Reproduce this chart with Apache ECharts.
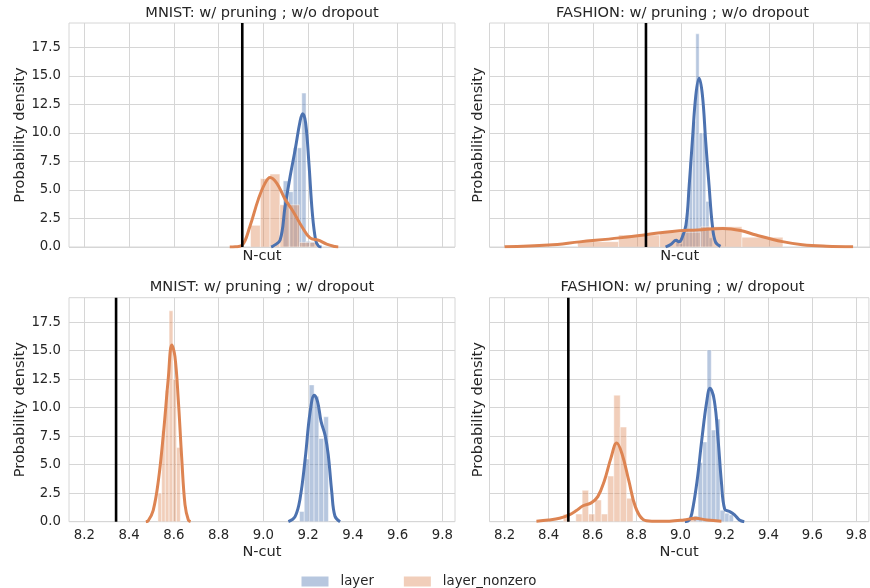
<!DOCTYPE html>
<html><head><meta charset="utf-8">
<script src="https://cdn.jsdelivr.net/npm/echarts@6/dist/echarts.min.js"></script>
<style>html,body{margin:0;padding:0;background:#fff}#c{width:870px;height:588px}</style>
</head><body><div id="c"></div>
<script>
// ---------- data ----------
const xTicks = [8.2, 8.4, 8.6, 8.8, 9.0, 9.2, 9.4, 9.6, 9.8];
const yTicks = [0, 2.5, 5, 7.5, 10, 12.5, 15, 17.5];
const panelTitles = ['MNIST: w/ pruning ; w/o dropout', 'FASHION: w/ pruning ; w/o dropout',
                     'MNIST: w/ pruning ; w/ dropout', 'FASHION: w/ pruning ; w/ dropout'];
const seriesNames = ['layer', 'layer_nonzero'];
const xLabel = 'N-cut';
const yLabel = 'Probability density';
const cutLines = [8.906, 8.841, 8.342, 8.490];

// panel 0: MNIST w/o dropout
const layerEdges0 = [9.089, 9.112, 9.134, 9.153, 9.172, 9.191, 9.210, 9.229];
const layerHeights0 = [5.8, 4.85, 8.7, 8.7, 13.5, 0.5, 0.45];
const nonzeroEdges0 = [8.943, 8.987, 9.030, 9.074, 9.118, 9.162, 9.206, 9.249];
const nonzeroHeights0 = [1.9, 6.0, 6.4, 3.7, 3.7, 0.4, 0.4];
const layerKdeX0 = [9.035, 9.045, 9.075, 9.097, 9.12, 9.142, 9.165, 9.176, 9.189, 9.204, 9.219, 9.234, 9.246, 9.26];
const layerKdeY0 = [0, 0.1, 0.6, 3.5, 6.2, 8.5, 11.1, 11.7, 10.9, 7.3, 3.0, 0.6, 0.1, 0];
const nonzeroKdeX0 = [8.85, 8.875, 8.905, 8.94, 8.978, 9.008, 9.03, 9.06, 9.097, 9.134, 9.172, 9.209, 9.246, 9.283, 9.32, 9.335];
const nonzeroKdeY0 = [0, 0.02, 0.15, 1.8, 4.2, 5.6, 6.1, 5.6, 4.2, 3.1, 1.8, 0.8, 0.6, 0.25, 0.04, 0];

// panel 1: FASHION w/o dropout
const layerEdges1 = [8.977, 8.992, 9.007, 9.022, 9.037, 9.052, 9.067, 9.082, 9.097, 9.112, 9.127, 9.142];
const layerHeights1 = [0.6, 0.3, 1.2, 3.0, 7.5, 11.0, 18.7, 10.0, 10.0, 4.0, 0.8];
const nonzeroEdges1 = [8.531, 8.717, 8.903, 9.089, 9.276, 9.462];
const nonzeroHeights1 = [0.47, 1.05, 1.3, 1.78, 0.85];
const layerKdeX1 = [8.93, 8.955, 8.978, 8.99, 9.0, 9.022, 9.037, 9.052, 9.067, 9.082, 9.097, 9.112, 9.127, 9.142, 9.156, 9.179];
const layerKdeY1 = [0, 0.25, 0.6, 0.45, 0.6, 1.9, 5.4, 9.5, 13.3, 14.8, 13.3, 9.2, 5.4, 1.9, 0.45, 0.05];
const nonzeroKdeX1 = [8.2, 8.4, 8.54, 8.72, 8.84, 8.96, 9.075, 9.19, 9.27, 9.34, 9.46, 9.55, 9.66, 9.78];
const nonzeroKdeY1 = [0.02, 0.17, 0.45, 0.8, 1.08, 1.37, 1.5, 1.63, 1.45, 1.05, 0.47, 0.2, 0.07, 0.02];

// panel 2: MNIST w/ dropout
const layerEdges2 = [9.162, 9.183, 9.205, 9.227, 9.248, 9.270, 9.291];
const layerHeights2 = [0.9, 5.5, 12.0, 11.0, 7.3, 9.2];
const nonzeroEdges2 = [8.529, 8.546, 8.562, 8.579, 8.596, 8.612, 8.629];
const nonzeroHeights2 = [2.5, 8.0, 11.5, 18.5, 12.5, 6.5];
const layerKdeX2 = [9.112, 9.142, 9.164, 9.187, 9.209, 9.228, 9.243, 9.258, 9.276, 9.29, 9.306, 9.32, 9.343];
const layerKdeY2 = [0, 0.45, 2.0, 5.5, 9.6, 11.1, 10.5, 8.8, 7.6, 5.9, 2.6, 0.5, 0];
const nonzeroKdeX2 = [8.475, 8.486, 8.508, 8.531, 8.553, 8.575, 8.591, 8.605, 8.62, 8.635, 8.65, 8.665, 8.675];
const nonzeroKdeY2 = [0, 0.1, 1.0, 3.6, 7.6, 12.5, 15.5, 14.5, 10.7, 5.7, 1.5, 0.15, 0];

// panel 3: FASHION w/ dropout
const layerEdges3 = [9.060, 9.080, 9.101, 9.121, 9.140, 9.161, 9.180, 9.201, 9.221, 9.241];
const layerHeights3 = [0.5, 5.2, 7.0, 15.06, 8.04, 9.0, 1.0, 0.75, 0.6];
const nonzeroEdges3 = [8.467, 8.496, 8.524, 8.553, 8.582, 8.611, 8.640, 8.669, 8.697, 8.726, 8.755, 8.784,
                       8.813, 8.842, 8.870, 8.899, 8.928, 8.957, 8.986, 9.014, 9.043, 9.072];
const nonzeroHeights3 = [0.65, 0, 0.67, 2.75, 0.67, 1.9, 0.67, 4.0, 11.1, 8.3, 2.05,
                         0, 0, 0, 0, 0, 0, 0, 0, 0, 0.35];
const layerKdeX3 = [9.02, 9.04, 9.052, 9.075, 9.097, 9.119, 9.134, 9.154, 9.171, 9.186, 9.201, 9.223, 9.246, 9.268, 9.29];
const layerKdeY3 = [0, 0.15, 0.75, 3.5, 7.2, 10.5, 11.7, 10.6, 7.2, 3.5, 1.1, 0.9, 0.6, 0.15, 0];
const nonzeroKdeX3 = [8.345, 8.40, 8.45, 8.494, 8.525, 8.557, 8.594, 8.624, 8.654, 8.684, 8.71, 8.735, 8.765, 8.795, 8.83, 8.87, 8.95, 9.015, 9.067, 9.12, 9.186];
const nonzeroKdeY3 = [0.05, 0.15, 0.3, 0.6, 0.95, 1.4, 1.65, 2.2, 3.6, 5.6, 6.9, 5.9, 3.6, 1.3, 0.2, 0.05, 0.05, 0.15, 0.3, 0.15, 0.05];

// ---------- build ----------
const panels = [
  {le: layerEdges0, lh: layerHeights0, ne: nonzeroEdges0, nh: nonzeroHeights0, lkx: layerKdeX0, lky: layerKdeY0, nkx: nonzeroKdeX0, nky: nonzeroKdeY0},
  {le: layerEdges1, lh: layerHeights1, ne: nonzeroEdges1, nh: nonzeroHeights1, lkx: layerKdeX1, lky: layerKdeY1, nkx: nonzeroKdeX1, nky: nonzeroKdeY1},
  {le: layerEdges2, lh: layerHeights2, ne: nonzeroEdges2, nh: nonzeroHeights2, lkx: layerKdeX2, lky: layerKdeY2, nkx: nonzeroKdeX2, nky: nonzeroKdeY2},
  {le: layerEdges3, lh: layerHeights3, ne: nonzeroEdges3, nh: nonzeroHeights3, lkx: layerKdeX3, lky: layerKdeY3, nkx: nonzeroKdeX3, nky: nonzeroKdeY3}
];

const FONT = 'DejaVu Sans';
const TXT = '#262626';
const GRIDC = '#d6d6d6';
const BLUE = '#4C72B0', ORANGE = '#DD8452';
const BLUE_A = 'rgba(76,114,176,0.4)', ORANGE_A = 'rgba(221,132,82,0.4)';
const X_MIN = 8.1316, X_MAX = 9.8567, Y_MAX = 19.65;
const TITLE_FS = 14.6, LABEL_FS = 14.6, TICK_FS = 13.3;

const gridPos = [
  {left: 69, top: 23}, {left: 489.5, top: 23},
  {left: 69, top: 297.7}, {left: 489.5, top: 297.7}
];

function histData(edges, heights) {
  const out = [];
  for (let i = 0; i < heights.length; i++) out.push([edges[i], edges[i + 1], heights[i]]);
  return out;
}
function pairs(xs, ys) { return xs.map((x, i) => [x, ys[i]]); }
function histRender(fill) {
  return function (params, api) {
    if (api.value(2) <= 0) return null;
    const a = api.coord([api.value(0), api.value(2)]);
    const b = api.coord([api.value(1), 0]);
    return {type: 'rect', shape: {x: a[0], y: a[1], width: b[0] - a[0], height: b[1] - a[1]},
      style: {fill: fill, stroke: 'rgba(255,255,255,0.45)', lineWidth: 1}};
  };
}

const grids = [], xAxes = [], yAxes = [], series = [], graphics = [];
panels.forEach((p, i) => {
  const left = i % 2 === 0;
  const bottom = i >= 2;
  grids.push({left: gridPos[i].left, top: gridPos[i].top, width: 386, height: 224,
    show: true, borderColor: GRIDC, borderWidth: 1, backgroundColor: 'transparent', containLabel: false});
  xAxes.push({gridIndex: i, type: 'value', min: X_MIN, max: X_MAX,
    name: xLabel, nameLocation: 'middle', nameGap: bottom ? 23 : 2,
    nameTextStyle: {fontFamily: FONT, fontSize: LABEL_FS, color: TXT},
    axisLine: {show: false},
    axisTick: {show: false, customValues: xTicks},
    axisLabel: {show: bottom, customValues: xTicks, margin: 7, fontFamily: FONT, fontSize: TICK_FS, color: TXT,
      formatter: v => v.toFixed(1)},
    splitLine: {show: true, lineStyle: {color: GRIDC, width: 1}}
  });
  yAxes.push({gridIndex: i, type: 'value', min: 0, max: Y_MAX,
    name: yLabel, nameLocation: 'middle', nameGap: left ? 41.5 : 4,
    nameTextStyle: {fontFamily: FONT, fontSize: LABEL_FS, color: TXT},
    axisLine: {show: false},
    axisTick: {show: false, customValues: yTicks},
    axisLabel: {show: left, customValues: yTicks, margin: 8, fontFamily: FONT, fontSize: TICK_FS, color: TXT,
      formatter: v => v.toFixed(1)},
    splitLine: {show: true, lineStyle: {color: GRIDC, width: 1}}
  });
  series.push({type: 'custom', name: seriesNames[0], xAxisIndex: i, yAxisIndex: i,
    renderItem: histRender(BLUE_A), data: histData(p.le, p.lh), encode: {x: [0, 1], y: 2},
    itemStyle: {color: BLUE_A}, clip: true});
  series.push({type: 'line', name: seriesNames[0] + '_kde', xAxisIndex: i, yAxisIndex: i,
    data: pairs(p.lkx, p.lky), smooth: 0.4, showSymbol: false, symbol: 'none',
    lineStyle: {color: BLUE, width: 3}, itemStyle: {color: BLUE}, clip: true});
  series.push({type: 'custom', name: seriesNames[1], xAxisIndex: i, yAxisIndex: i,
    renderItem: histRender(ORANGE_A), data: histData(p.ne, p.nh), encode: {x: [0, 1], y: 2},
    itemStyle: {color: ORANGE_A}, clip: true});
  series.push({type: 'line', name: seriesNames[1] + '_kde', xAxisIndex: i, yAxisIndex: i,
    data: pairs(p.nkx, p.nky), smooth: 0.4, showSymbol: false, symbol: 'none',
    lineStyle: {color: ORANGE, width: 3}, itemStyle: {color: ORANGE}, clip: true});
  series.push({type: 'line', name: 'cut', xAxisIndex: i, yAxisIndex: i,
    data: [[cutLines[i], 0], [cutLines[i], Y_MAX]], showSymbol: false, symbol: 'none',
    lineStyle: {color: '#000', width: 2.6}, itemStyle: {color: '#000'}, clip: true, z: 5});
  graphics.push({type: 'text', x: gridPos[i].left + 193, y: bottom ? 287.5 : 13.0,
    style: {text: panelTitles[i], font: TITLE_FS + 'px "' + FONT + '"', fill: TXT,
      textAlign: 'center', textVerticalAlign: 'middle', align: 'center', verticalAlign: 'middle'}});
});

const chart = echarts.init(document.getElementById('c'), null, {renderer: 'canvas'});
chart.setOption({
  animation: false,
  backgroundColor: '#fff',
  grid: grids, xAxis: xAxes, yAxis: yAxes, series: series,
  graphic: graphics,
  legend: {
    data: [{name: seriesNames[0], itemStyle: {color: BLUE_A}}, {name: seriesNames[1], itemStyle: {color: ORANGE_A}}],
    left: 296.5, top: 570, icon: 'rect', itemWidth: 27, itemHeight: 10, itemGap: 30,
    textStyle: {fontFamily: FONT, fontSize: 13.3, color: TXT, padding: [0, 0, 0, 7]}
  }
});
</script></body></html>
